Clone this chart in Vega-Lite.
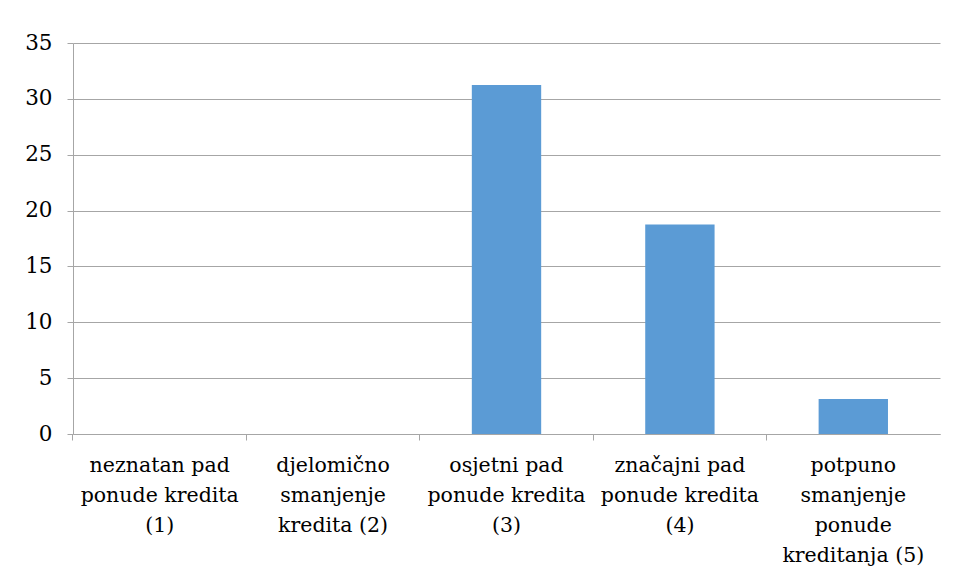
{
  "$schema": "https://vega.github.io/schema/vega-lite/v6.json",
  "width": 867,
  "height": 391,
  "autosize": "none",
  "padding": {"left": 73, "top": 43, "right": 16, "bottom": 149},
  "background": "white",
  "data": {
    "values": [
      {"kategorija": "neznatan pad\nponude kredita\n(1)", "vrijednost": 0},
      {"kategorija": "djelomično\nsmanjenje\nkredita (2)", "vrijednost": 0},
      {"kategorija": "osjetni pad\nponude kredita\n(3)", "vrijednost": 31.25},
      {"kategorija": "značajni pad\nponude kredita\n(4)", "vrijednost": 18.75},
      {"kategorija": "potpuno\nsmanjenje\nponude\nkreditanja (5)", "vrijednost": 3.125}
    ]
  },
  "mark": {"type": "bar", "color": "#5B9BD5"},
  "encoding": {
    "x": {
      "field": "kategorija",
      "type": "nominal",
      "sort": null,
      "scale": {"paddingInner": 0.6, "paddingOuter": 0.3},
      "axis": {
        "title": null,
        "labelAngle": 0,
        "labelExpr": "split(datum.label, '\\n')",
        "labelFont": "DejaVu Serif",
        "labelFontSize": 20.5,
        "labelLineHeight": 30,
        "labelColor": "black",
        "labelPadding": 15,
        "labelLimit": 0,
        "bandPosition": -0.75,
        "tickSize": 6,
        "tickColor": "#a6a6a6",
        "domainColor": "#a6a6a6",
        "labelBaseline": "top"
      }
    },
    "y": {
      "field": "vrijednost",
      "type": "quantitative",
      "scale": {"domain": [0, 35], "nice": false},
      "axis": {
        "title": null,
        "values": [0, 5, 10, 15, 20, 25, 30, 35],
        "labelFont": "DejaVu Serif",
        "labelFontSize": 21.5,
        "labelColor": "black",
        "labelPadding": 15,
        "tickSize": 6,
        "tickColor": "#a6a6a6",
        "domainColor": "#a6a6a6",
        "gridColor": "#a6a6a6",
        "grid": true
      }
    }
  },
  "config": {
    "view": {"stroke": null}
  }
}
